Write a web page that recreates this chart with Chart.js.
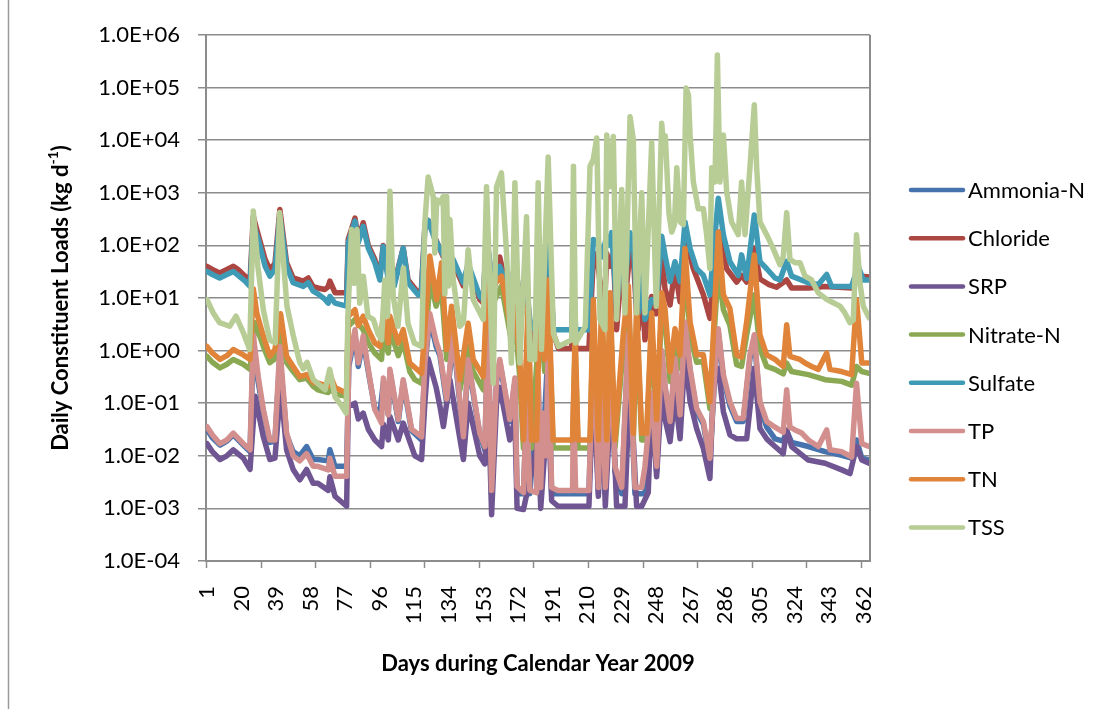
<!DOCTYPE html>
<html>
<head>
<meta charset="utf-8">
<title>Daily Constituent Loads 2009</title>
<script src="https://cdn.jsdelivr.net/npm/chart.js@4.4.1/dist/chart.umd.min.js"></script>
<style>
  html, body { margin: 0; padding: 0; background: #ffffff; }
  canvas { display: block; }
</style>
</head>
<body>
<canvas id="loads" width="1118" height="709"></canvas>
<script>
// Series names, in legend order (last one is drawn on top)
const seriesNames = ["Ammonia-N", "Chloride", "SRP", "Nitrate-N", "Sulfate", "TP", "TN", "TSS"];

const seriesColors = [
  "#4672ad", "#ab4643", "#6f5692", "#8ba952",
  "#3f9bb5", "#d38f8d", "#e0843a", "#b8cc96"
];

// Day labels shown under the axis and log-axis decades
const dayTicks = [1, 20, 39, 58, 77, 96, 115, 134, 153, 172, 191, 210, 229, 248, 267, 286, 305, 324, 343, 362];
const loadTicks = [1e-4, 1e-3, 1e-2, 1e-1, 1, 1e1, 1e2, 1e3, 1e4, 1e5, 1e6];

// Loads as [day, kg/d]
const ammoniaN = [[1,0.032],[4,0.022],[8.2,0.016],[12,0.019],[15.5,0.025],[21,0.016],[24.7,0.012],[26.5,1.2],[29.2,0.25],[32,0.07],[35.6,0.018],[38.4,0.019],[41.1,0.8],[44.8,0.025],[48.4,0.012],[52,0.01],[55.8,0.015],[59.4,0.0085],[62,0.0085],[67.7,0.008],[68.6,0.013],[71.4,0.0063],[77.8,0.0063],[79,0.5],[82.4,2],[84.2,0.5],[86.9,1.5],[89.7,0.4],[93.3,0.08],[96.1,0.065],[98,0.25],[100.7,0.06],[101.6,0.4],[106.2,0.045],[108.9,0.25],[113.5,0.03],[119,0.02],[120.8,0.5],[123.5,4],[127,1.2],[129.1,0.8],[132.8,0.1],[136.4,1.8],[142,0.02],[144.6,0.6],[151,0.025],[153.8,0.013],[155.5,3],[157.5,0.0018],[160.2,0.25],[162,0.6],[167.5,0.045],[170.3,0.25],[171.5,0.0019],[175,0.0019],[176.7,0.08],[178.5,0.0019],[183.1,0.25],[184.5,0.0019],[188.6,1.2],[190.5,0.0019],[211,0.0019],[213.4,1.2],[216.2,0.0019],[218,0.6],[220,0.0019],[223.5,0.8],[225.3,0.005],[229,0.0019],[232.7,1.8],[236.3,0.0019],[241.8,0.0019],[245.5,0.13],[248.2,0.005],[251,0.9],[252.8,0.2],[255.6,0.04],[258.3,0.6],[261.1,0.05],[263.8,3],[266.6,0.4],[270.2,0.07],[273.9,0.04],[277.5,0.008],[280.3,0.4],[282.1,2.2],[284.9,0.3],[288.5,0.09],[292.2,0.045],[295.8,0.045],[299.5,0.7],[301.9,1.7],[305,0.09],[308.7,0.035],[313.3,0.021],[317.8,0.019],[319.7,0.03],[322.4,0.018],[331.6,0.015],[340.8,0.012],[350,0.0102],[355.4,0.009],[358.1,0.02],[361,0.009],[365,0.0083]];

const chloride = [[1,40],[4,35],[8,30],[12,35],[15.5,40],[18,35],[22,26],[24.7,21],[26.5,350],[29.2,160],[33,54],[35.6,35],[38.4,45],[41.1,480],[44.8,47],[48.4,24],[54,21],[56.7,24],[59.4,16.5],[62,15.5],[65.8,14.5],[67.7,16.5],[68.6,21],[71.4,12.6],[77.8,12.6],[78.7,130],[82.4,330],[84.2,130],[86.9,270],[89.7,100],[93.3,54],[96.1,26],[97.9,100],[100.7,26],[101.6,60],[104,19],[108.9,89],[111.6,22],[117.1,12.6],[118.9,14.5],[120.8,230],[122.6,300],[126,150],[131,60],[136.4,47],[141.9,17],[144.6,40],[151,9.3],[152.9,8],[154.7,150],[158.4,12],[162,60],[167.5,7.4],[170.3,50],[174,5],[176.7,20],[178.5,2.9],[181.2,1.2],[183.1,30],[185,5],[188.7,150],[191.5,2.1],[194.2,1.1],[201.5,1.1],[202.5,20],[203.7,1.1],[211,1.1],[213.4,54],[215.3,70],[217.1,20],[219.8,10],[220.8,70],[222.6,40],[224.4,72],[226.2,2.5],[229,40],[230.8,8],[233.6,83],[235.4,60],[237.2,5],[238.1,2.5],[240,20],[241.8,1.6],[245.5,10.7],[248,5],[251,76],[252.8,15],[255.6,7.4],[258.3,36],[261.1,8.5],[264.7,117],[268.4,36],[273.9,11.5],[277.5,4.1],[280.3,49],[283,180],[286.7,36],[292.2,20],[294.9,27],[297.7,20],[301.9,87],[305,23],[310,18],[314.1,16],[319.7,22],[322.4,15.5],[331.6,15.5],[340.8,16.6],[355.4,15.5],[358.5,32],[361,26],[365,25]];

const srp = [[1,0.017],[4,0.012],[8.2,0.0085],[12,0.01],[15.5,0.013],[21,0.009],[24.7,0.0055],[27.5,0.135],[32,0.023],[35.6,0.0085],[38.4,0.009],[41.5,0.2],[44.8,0.013],[48.4,0.0055],[52.1,0.0035],[55.8,0.0055],[59.4,0.003],[62,0.003],[67.7,0.0022],[68.6,0.004],[71.4,0.0017],[77.8,0.0011],[78.7,0.087],[82.4,0.1],[84.2,0.05],[86.9,0.065],[89.7,0.032],[93.3,0.02],[97,0.015],[98,0.04],[100.7,0.02],[101.6,0.056],[106.2,0.02],[108.9,0.042],[115.3,0.01],[119,0.0085],[120.8,0.1],[122.6,0.7],[127,0.2],[129.1,0.087],[131,0.036],[134.6,0.28],[142,0.0085],[144.6,0.1],[151,0.01],[153.8,0.007],[155.5,0.2],[157.5,0.00076],[160.2,0.1],[162,0.2],[167.5,0.02],[170.3,0.05],[171.5,0.001],[175,0.00095],[183.1,0.02],[184.5,0.001],[188.6,0.1],[190.5,0.0014],[194,0.0011],[211,0.0011],[213.4,0.24],[216.2,0.0017],[218,0.18],[220,0.0011],[223.5,0.24],[226.2,0.0011],[230.8,0.0011],[233.6,0.37],[237.2,0.0011],[240,0.0011],[243.6,0.002],[245.5,0.12],[248.2,0.004],[251,0.18],[252.8,0.051],[255.6,0.0186],[258.3,0.14],[261.1,0.021],[263.8,0.83],[266.6,0.107],[270.2,0.033],[273.9,0.0138],[277.5,0.0037],[279.4,0.22],[282.1,0.46],[284.9,0.069],[288.5,0.025],[292.2,0.021],[297.7,0.021],[301.9,0.46],[305,0.033],[308.7,0.021],[313.3,0.015],[317.8,0.011],[319.7,0.031],[322.4,0.015],[331.6,0.0083],[340.8,0.0072],[350,0.0054],[354.5,0.0046],[358.1,0.015],[361,0.0083],[365,0.0072]];

const nitrateN = [[1,0.78],[4,0.6],[8.2,0.47],[12,0.55],[15.5,0.68],[21,0.55],[24.7,0.44],[27.5,3.4],[32,1.2],[35.6,0.59],[38.4,0.7],[41.5,2.5],[44.8,0.59],[48.4,0.4],[52.1,0.28],[55.8,0.3],[59.4,0.21],[62,0.18],[67.7,0.16],[68.6,0.2],[71.4,0.15],[77.8,0.135],[78.7,2.9],[82.4,3.9],[86.9,2.5],[89.7,1.4],[93.3,0.9],[97,0.68],[97.9,2],[100.7,0.9],[101.6,2.5],[106.2,0.8],[108.9,1.5],[112.5,0.4],[115.3,0.28],[119,0.24],[121,1.2],[123.6,22],[127,7],[130,15],[132.8,0.68],[135.5,3.2],[140.1,0.18],[144.6,1.2],[147.4,0.4],[152.9,0.18],[155.5,17],[158.4,8],[162.9,17],[165.7,5],[168.4,1.5],[170.3,4],[173,0.3],[175,0.014],[177.6,4],[179.4,0.014],[184,5],[186.7,0.4],[188.6,12],[191.3,0.014],[202,0.014],[203.4,1.2],[205,0.014],[211.6,0.014],[213.4,5],[216.2,0.014],[218,5],[220.8,0.014],[222.6,7],[225.3,0.014],[229.9,1.2],[232.7,9],[235.4,0.02],[237.2,4],[240,0.02],[242.7,0.02],[245.5,3],[248.2,0.035],[251,7],[252.8,3.5],[255.6,0.26],[258.3,1.5],[261.1,0.46],[263.8,45],[266.6,2],[270.2,0.6],[273.9,0.62],[277.5,0.079],[279.4,1.2],[282.1,36],[284.9,6],[288.5,3],[292.2,0.54],[294.9,0.5],[297.7,2],[301.9,11.5],[305,1.1],[308.7,0.5],[313.3,0.44],[317.8,0.36],[319.7,0.58],[322.4,0.4],[331.6,0.35],[340.8,0.28],[349.9,0.26],[355.4,0.22],[358.1,0.5],[361,0.4],[365,0.37]];

const sulfate = [[1,32],[4,28],[8,24],[12,28],[15.5,32],[22,21],[24.7,16.6],[26.5,250],[29.2,130],[33,40],[35.6,26],[38.4,35],[41.1,360],[44.8,40],[48.4,19.5],[54,16.6],[56.7,19.5],[59.4,13.5],[62,12],[65.8,9.5],[67.7,8],[68.6,10.7],[71.4,8],[77.8,7],[78.7,112],[82.4,290],[84.2,112],[86.9,230],[89.7,89],[93.3,47],[96.1,22],[97.9,95],[100.7,22],[101.6,60],[104,17],[108.9,89],[111.6,19.5],[117.1,11.5],[118.9,12.6],[120.8,200],[122.6,300],[126,140],[131,65],[136.4,54],[141.9,19.5],[144.6,45],[151,10.7],[152.9,9.3],[154.7,150],[158.4,14],[162,40],[167.5,10.7],[170.3,45],[174,6],[176.7,20],[178.5,3.3],[181.2,2.5],[183.1,30],[185,6],[188.7,150],[191.5,2.5],[201.5,2.5],[202.5,25],[203.7,2.5],[211,2.5],[213.4,130],[216.2,112],[218,60],[220.8,150],[222.6,100],[223.5,175],[226.2,7],[229,70],[230.8,20],[233.6,175],[235.4,120],[237.2,8],[238.1,5.2],[240,30],[241.8,3.9],[245.5,9.3],[248,8],[251,150],[252.8,66],[255.6,20.5],[258.3,49],[261.1,20.5],[263.8,280],[266.6,87],[270.2,36],[273.9,27],[277.5,11.5],[280.3,158],[282.1,790],[284.9,158],[288.5,49],[293.1,27],[294.9,66],[297.7,23.5],[301.9,380],[305,49],[308.7,36],[313.3,24],[316,22],[319.7,50],[322.4,26],[331.6,19.5],[337.1,18],[341.7,28],[344.4,16.6],[355.4,16.6],[359,40],[361.8,22],[365,22]];

const tp = [[1,0.036],[4,0.025],[8.2,0.017],[12,0.02],[15.5,0.027],[21,0.017],[24.7,0.013],[26.5,2],[29.2,0.32],[32,0.076],[35.6,0.02],[38.4,0.02],[41.1,1.2],[44.8,0.027],[48.4,0.01],[52,0.008],[55.8,0.011],[59.4,0.0063],[62,0.0063],[67.7,0.0054],[68.6,0.009],[71.4,0.0041],[77.8,0.0041],[79,0.6],[82.4,2.5],[84.2,0.58],[86.9,1.9],[89.7,0.44],[93.3,0.076],[97,0.042],[98,0.3],[100.7,0.06],[101.6,0.44],[106.2,0.049],[108.9,0.28],[113.5,0.032],[119,0.023],[120.8,0.58],[123.5,5.1],[127,1.5],[129.1,0.9],[132.8,0.12],[136.4,2.1],[142,0.023],[144.6,0.68],[151,0.027],[153.8,0.015],[155.5,3.9],[157.5,0.0022],[160.2,0.28],[162,0.68],[167.5,0.049],[170.3,0.3],[171.5,0.0026],[175,0.002],[176.7,0.1],[178.5,0.0022],[182.2,0.002],[183.1,0.3],[184.5,0.0025],[185.8,0.065],[187.5,0.01],[188.6,1.5],[190.5,0.0025],[194,0.0022],[202,0.0022],[202.5,0.1],[203.7,0.0022],[211,0.0022],[213.4,1.4],[216.2,0.0025],[218,0.68],[220,0.0025],[223.5,0.9],[225.3,0.0063],[229,0.0025],[232.7,2.1],[236.3,0.0025],[240,0.0025],[241.8,0.0063],[245.5,0.155],[248.2,0.0063],[251,1],[252.8,0.22],[255.6,0.045],[258.3,0.71],[261.1,0.06],[263.8,3.5],[266.6,0.46],[270.2,0.08],[273.9,0.045],[277.5,0.009],[280.3,0.46],[282.1,2.6],[284.9,0.35],[288.5,0.107],[292.2,0.051],[295.8,0.051],[299.5,0.83],[301.9,2],[305,0.107],[308.7,0.045],[313.3,0.035],[317.8,0.028],[319.7,0.18],[321.5,0.035],[324.3,0.031],[328,0.027],[331.6,0.02],[337.1,0.015],[341.7,0.031],[343.5,0.013],[349.9,0.012],[355.4,0.0095],[358.1,0.24],[361,0.017],[365,0.015]];

const tn = [[1,1.2],[4,0.9],[8.2,0.68],[12,0.8],[15.5,1.05],[21,0.83],[24.7,0.68],[26.5,15],[28.5,5],[32,1.9],[35.6,0.78],[38.4,1.05],[41.5,5],[44.8,0.78],[48.4,0.5],[52.1,0.32],[55.8,0.35],[59.4,0.25],[62,0.24],[67.7,0.21],[68.6,0.35],[71.4,0.2],[77.8,0.155],[78.7,4.5],[82.4,6],[84.2,3],[86.9,4.5],[89.7,2.5],[93.3,1.4],[96.1,1.2],[97.9,4.5],[100.7,1.4],[101.6,4.5],[106.2,1.4],[108.9,2.5],[112.5,0.58],[119,0.37],[120.8,2.5],[123.5,63],[127.3,9.3],[130,47],[132.8,1.05],[135.5,7],[140.1,0.28],[144.6,3.3],[147.4,0.68],[152.9,0.32],[155.5,35],[158.4,17],[162.9,26],[165.7,8],[168.4,2],[170.3,7],[173,0.68],[175,0.02],[177.6,8],[179.4,0.02],[182.2,0.02],[184,9.3],[186.7,0.68],[188.6,22],[191.3,0.02],[202,0.02],[203.4,2.1],[205,0.02],[211.6,0.02],[213.4,9.3],[216.2,0.02],[218,9.3],[220.8,0.02],[222.6,12.6],[225.3,0.02],[229.9,2.1],[232.7,17],[235.4,0.027],[237.2,7],[240,0.027],[242.7,0.027],[245.5,5.2],[248.2,0.049],[251,12.6],[252.8,6.3],[255.6,0.4],[258.3,2.6],[261.1,0.83],[263.8,87],[266.6,3.5],[270.2,0.83],[273.9,0.83],[277.5,0.107],[279.4,2],[282.1,180],[284.9,11.5],[288.5,6.3],[292.2,0.83],[294.9,0.75],[297.7,3.5],[301.9,66],[305,2],[308.7,0.83],[313.3,0.68],[317.8,0.5],[319.7,3.1],[321.5,0.78],[327,0.68],[329.8,0.58],[333.4,0.5],[337.1,0.44],[341.7,0.9],[343.5,0.44],[349.9,0.4],[355.4,0.35],[358.1,9.4],[361,0.58],[365,0.58]];

const tss = [[1,9.3],[4.5,5.2],[8,3.4],[13.5,2.9],[17,4.5],[21,2.2],[24.5,1.05],[26.5,450],[29,40],[32,6],[35.5,1.6],[38.5,1.4],[41,420],[45,7],[48.5,1.9],[52,0.6],[54,0.45],[56,0.6],[59.5,0.28],[63,0.22],[66,0.18],[68.5,0.44],[71.5,0.13],[75,0.09],[77.5,0.065],[78.5,4.5],[80.5,200],[82,19],[83.5,200],[85,8],[87,26],[89.5,4.5],[92.5,3.9],[95,2.1],[97,1.6],[98.8,22],[100.3,4.5],[101.6,1070],[103.4,11],[106,2.9],[109,37],[111.5,3.3],[115,1.4],[119,1.2],[120.8,270],[122.6,2000],[125.4,850],[126.3,72],[127.3,740],[129.1,650],[130.9,850],[131.8,12],[132.8,850],[133.7,17],[134.6,310],[136.4,22],[140,2.9],[142,3.4],[144.6,83],[147.4,9.3],[152.9,3.9],[154.7,1300],[158.4,0.24],[160.2,1300],[162.9,2400],[165.7,72],[168.4,0.58],[170.3,1550],[173,0.58],[176.7,350],[178.5,0.68],[181.2,0.68],[183.1,1550],[184.9,1.05],[188.6,4800],[191.5,2.1],[194.2,1.2],[201.5,1.6],[202.5,3200],[203.7,1.4],[209,2.9],[211.6,3200],[213.4,4300],[215.3,11000],[217.1,3.9],[219.8,2.5],[220.8,12600],[222.6,1300],[224.4,11800],[226.2,3.9],[229,1150],[230.8,5.2],[233.6,28000],[235.4,10000],[237.2,5.2],[240,1000],[241.8,5.2],[245.5,9000],[248,7],[251,21000],[252,8000],[253,12000],[255,400],[256.5,180],[258,250],[259.3,3000],[261.1,280],[262.9,250],[264.4,98000],[265.7,73000],[266.6,12600],[268.4,1600],[271.1,500],[273.9,500],[275.7,160],[277.5,36],[278.5,3000],[280.3,1600],[281.6,415000],[283,1600],[284.9,12600],[286.7,1050],[289.4,280],[293.1,160],[294.9,1600],[296.8,160],[299.5,3000],[301.9,47000],[303.2,3000],[305,280],[308.7,160],[312.3,87],[316,43],[317.8,60],[319.7,420],[321.5,54],[324.3,47],[327,47],[329.8,26],[333.4,22],[337.1,12.5],[341.7,9.4],[345.3,8.1],[349,7],[351.7,5.2],[354.5,3.4],[356.3,3.8],[358.1,160],[360,19],[361.8,7],[365,4.2]];

const seriesData = [ammoniaN, chloride, srp, nitrateN, sulfate, tp, tn, tss];

const gridGray = "#8c8c8c";
Chart.defaults.font.family = "Lato";
Chart.defaults.color = "#000000";

// 1.0E+06 style labels
const sciLabel = (v) => {
  const exp = Math.round(Math.log10(v));
  const sign = exp < 0 ? "-" : "+";
  return "1.0E" + sign + String(Math.abs(exp)).padStart(2, "0");
};

// Titles, legend, frame and the 30-day tick marks
const chartDecor = {
  id: "chartDecor",
  afterDraw(chart) {
    const ctx = chart.ctx;
    const area = chart.chartArea;
    const xScale = chart.scales.x;
    ctx.save();

    // outer frame line at the left
    ctx.strokeStyle = "#9a9a9a";
    ctx.lineWidth = 1.5;
    ctx.beginPath();
    ctx.moveTo(8.5, 0);
    ctx.lineTo(8.5, 709);
    ctx.stroke();

    // plot right edge
    ctx.strokeStyle = gridGray;
    ctx.lineWidth = 2;
    ctx.beginPath();
    ctx.moveTo(area.right, area.top);
    ctx.lineTo(area.right, area.bottom);
    ctx.stroke();

    // x tick marks every 30 days
    ctx.lineWidth = 1.5;
    for (let d = 0.5; d <= 365; d += 30) {
      const px = Math.round(xScale.getPixelForValue(d)) + 0.5;
      ctx.beginPath();
      ctx.moveTo(px, area.bottom);
      ctx.lineTo(px, area.bottom + 7);
      ctx.stroke();
    }

    // x axis title
    ctx.fillStyle = "#000000";
    ctx.font = "bold 22px Lato";
    ctx.textAlign = "center";
    ctx.textBaseline = "alphabetic";
    ctx.fillText("Days during Calendar Year 2009", (area.left + area.right) / 2, 671);

    // y axis title with superscript
    const main = "Daily Constituent Loads (kg d";
    const sup = "-1";
    const tail = ")";
    ctx.font = "bold 22px Lato";
    const w1 = ctx.measureText(main).width;
    const w3 = ctx.measureText(tail).width;
    ctx.font = "bold 14px Lato";
    const w2 = ctx.measureText(sup).width;
    ctx.save();
    ctx.translate(62, (area.top + area.bottom) / 2);
    ctx.rotate(-Math.PI / 2);
    ctx.textAlign = "left";
    let tx = -(w1 + w2 + w3) / 2;
    ctx.font = "bold 22px Lato";
    ctx.fillText(main, tx, 6);
    tx += w1;
    ctx.font = "bold 14px Lato";
    ctx.fillText(sup, tx, -4);
    tx += w2;
    ctx.font = "bold 22px Lato";
    ctx.fillText(tail, tx, 6);
    ctx.restore();

    // legend
    ctx.font = "22px Lato";
    ctx.textAlign = "left";
    ctx.textBaseline = "middle";
    ctx.lineCap = "round";
    seriesNames.forEach((name, i) => {
      const ly = 190 + i * 48.2;
      ctx.strokeStyle = seriesColors[i];
      ctx.lineWidth = 4.5;
      ctx.beginPath();
      ctx.moveTo(911, ly);
      ctx.lineTo(963, ly);
      ctx.stroke();
      ctx.fillStyle = "#000000";
      ctx.fillText(name, 968, ly + 1);
    });

    ctx.restore();
  }
};

const loadsChart = new Chart(document.getElementById("loads"), {
  type: "line",
  data: {
    datasets: seriesNames.map((name, i) => ({
      label: name,
      data: seriesData[i],
      borderColor: seriesColors[i],
      backgroundColor: seriesColors[i],
      borderWidth: 5.5,
      borderJoinStyle: "round",
      borderCapStyle: "round",
      pointRadius: 0,
      tension: 0,
      fill: false,
      order: seriesNames.length - i,
    })),
  },
  options: {
    responsive: false,
    animation: false,
    devicePixelRatio: 1,
    events: [],
    layout: { padding: { top: 35, right: 248, left: 0, bottom: 0 } },
    plugins: {
      legend: { display: false },
      tooltip: { enabled: false },
    },
    scales: {
      x: {
        type: "linear",
        min: 0.5,
        max: 365.5,
        afterFit: (scale) => { scale.height = 148; },
        afterBuildTicks: (scale) => { scale.ticks = dayTicks.map((v) => ({ value: v })); },
        grid: { display: false, drawTicks: false },
        border: { display: true, color: gridGray, width: 2 },
        ticks: {
          autoSkip: false,
          minRotation: 90,
          maxRotation: 90,
          padding: 25,
          font: { size: 22 },
          callback: (v) => String(v),
        },
      },
      y: {
        type: "logarithmic",
        min: 1e-4,
        max: 1e6,
        afterFit: (scale) => { scale.width = 206; },
        afterBuildTicks: (scale) => { scale.ticks = loadTicks.map((v) => ({ value: v })); },
        grid: { color: gridGray, lineWidth: 1.5, tickLength: 8 },
        border: { color: gridGray, width: 2 },
        ticks: {
          padding: 18,
          font: { size: 22 },
          callback: (v) => sciLabel(v),
        },
      },
    },
  },
  plugins: [chartDecor],
});
</script>
</body>
</html>
